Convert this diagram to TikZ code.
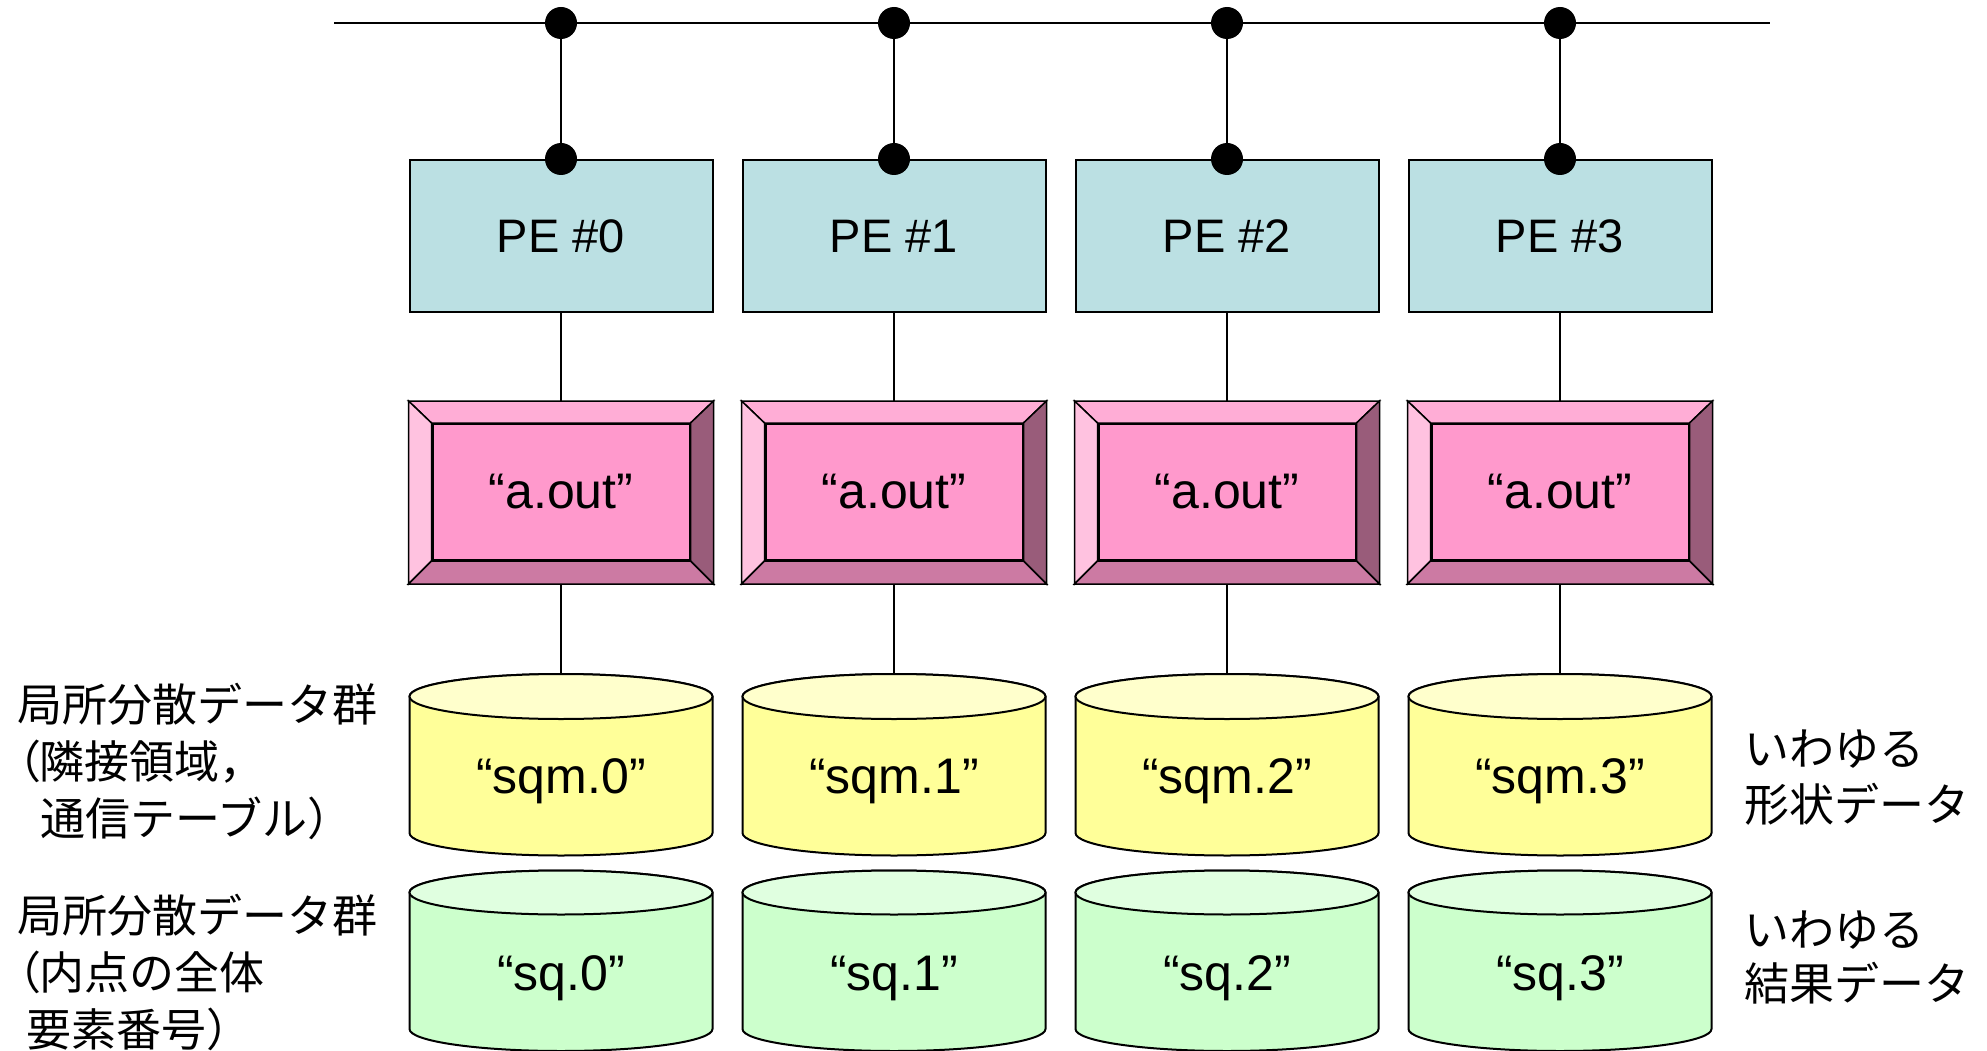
\documentclass[tikz,border=0pt]{standalone}
\usepackage{fontspec}
\setmainfont{Liberation Sans}
\newfontfamily\jpfont{Noto Sans CJK JP}
\usetikzlibrary{calc}
\definecolor{peFill}{RGB}{187,224,227}
\definecolor{pinkMid}{RGB}{255,153,204}
\definecolor{pinkTop}{RGB}{255,173,214}
\definecolor{pinkLeft}{RGB}{255,194,224}
\definecolor{pinkRight}{RGB}{153,92,122}
\definecolor{pinkBot}{RGB}{204,122,163}
\definecolor{yelBody}{RGB}{255,255,153}
\definecolor{yelTop}{RGB}{255,255,204}
\definecolor{grnBody}{RGB}{204,255,204}
\definecolor{grnTop}{RGB}{224,255,224}
\tikzset{
  pebox/.style={rectangle, draw, line width=2pt, fill=peFill, minimum width=303pt, minimum height=152pt, inner sep=0pt, font=\fontsize{47}{56}\selectfont},
  bevelout/.style={rectangle, draw, line width=2pt, fill=pinkMid, minimum width=303pt, minimum height=181pt, inner sep=0pt},
  bevelin/.style={rectangle, draw, line width=2pt, fill=pinkMid, minimum width=257pt, minimum height=136pt, inner sep=0pt, font=\fontsize{50}{60}\selectfont},
  facet/.style={draw=black, line width=1.5pt, line join=miter},
  conn/.style={line width=2pt},
  busdot/.style={circle, fill=black, minimum size=32pt, inner sep=0pt},
  cyl/.style={rectangle, minimum width=303pt, minimum height=181.5pt, inner sep=0pt, font=\fontsize{50}{60}\selectfont, text depth=0pt},
  cylline/.style={draw=black, line width=2pt},
  jplabel/.style={font=\jpfont\fontsize{45}{57}\selectfont, align=left, inner sep=0pt, anchor=base west}
}
\begin{document}
\begin{tikzpicture}[x=1pt, y=-1pt]
\useasboundingbox (0,0) rectangle (1987,1051);
\coordinate (busL) at (334,23);
\coordinate (busR) at (1770,23);
\draw[conn] (busL) -- (busR);
\foreach \i/\cx in {0/561,1/894,2/1227,3/1560}{
  % PE box
  \node[pebox] (pe\i) at (\cx,236) {PE \#\i};
  % bevelled executable box
  \node[bevelout] (exo\i) at (\cx,492.5) {};
  \node[bevelin, fill=none, draw=none] (exg\i) at (\cx,492) {};
  \filldraw[facet, fill=pinkTop] (exo\i.north west) -- (exo\i.north east) -- (exg\i.north east) -- (exg\i.north west) -- cycle;
  \filldraw[facet, fill=pinkLeft] (exo\i.north west) -- (exg\i.north west) -- (exg\i.south west) -- (exo\i.south west) -- cycle;
  \filldraw[facet, fill=pinkRight] (exo\i.north east) -- (exo\i.south east) -- (exg\i.south east) -- (exg\i.north east) -- cycle;
  \filldraw[facet, fill=pinkBot] (exo\i.south west) -- (exg\i.south west) -- (exg\i.south east) -- (exo\i.south east) -- cycle;
  \node[bevelin] (exe\i) at (\cx,492) {“a.out”};
  % yellow cylinder
  \path[cylline, fill=yelBody] (\cx-151.5,696.5) -- (\cx-151.5,833) arc[start angle=180, end angle=360, x radius=151.5pt, y radius=22.5pt] -- (\cx+151.5,696.5) arc[start angle=0, end angle=180, x radius=151.5pt, y radius=22.5pt] -- cycle;
  \path[cylline, fill=yelTop] (\cx,696.5) ellipse [x radius=151.5pt, y radius=22.5pt];
  \node[cyl, text height=56.5pt] (sqm\i) at (\cx,764.75) {“sqm.\i”};
  % green cylinder
  \path[cylline, fill=grnBody] (\cx-151.5,892.5) -- (\cx-151.5,1029) arc[start angle=180, end angle=360, x radius=151.5pt, y radius=22pt] -- (\cx+151.5,892.5) arc[start angle=0, end angle=180, x radius=151.5pt, y radius=22pt] -- cycle;
  \path[cylline, fill=grnTop] (\cx,892.5) ellipse [x radius=151.5pt, y radius=22pt];
  \node[cyl, text height=58.5pt] (sq\i) at (\cx,960.75) {“sq.\i”};
  % bus connections
  \node[busdot] (bus\i) at (\cx,23) {};
  \node[busdot] (pin\i) at (pe\i.north) {};
  \draw[conn] (bus\i) -- (pin\i);
  \draw[conn] (pe\i) -- (exo\i);
  \draw[conn] (exo\i) -- (sqm\i.north);
}
\node[jplabel] (lblA) at (17,835) {局所分散データ群\\{\addfontfeature{RawFeature=+palt}（}隣接領域，\\\hspace*{23pt}通信テーブル）};
\node[jplabel] (lblB) at (17,1046) {局所分散データ群\\{\addfontfeature{RawFeature=+palt}（}内点の全体\\\hspace*{9pt}要素番号）};
\node[jplabel, font=\jpfont\fontsize{45}{56}\selectfont] (lblC) at (1744,821) {いわゆる\\形状データ};
\node[jplabel, font=\jpfont\fontsize{45}{54}\selectfont] (lblD) at (1744,1000) {いわゆる\\結果データ};
\end{tikzpicture}
\end{document}
